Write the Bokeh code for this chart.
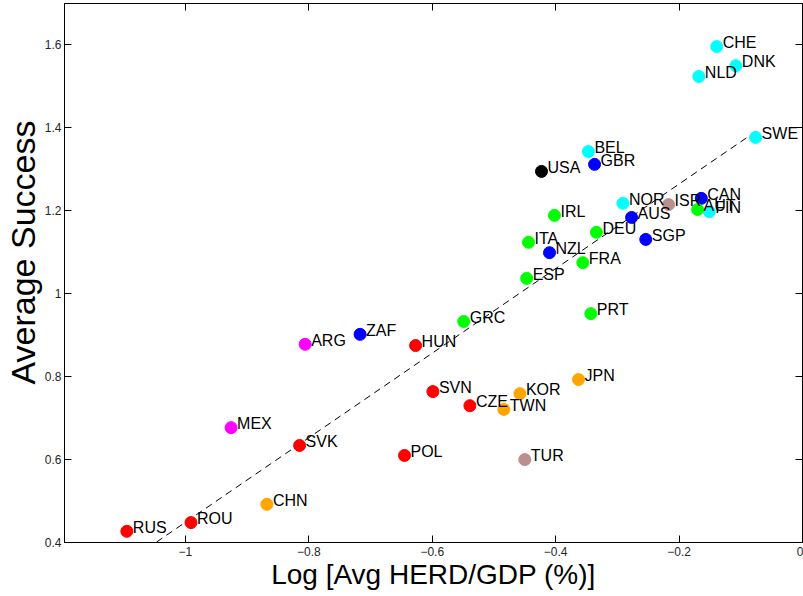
from bokeh.plotting import figure
from bokeh.models import Range1d, LinearAxis, FixedTicker, ColumnDataSource, Title
from bokeh.embed import file_html
from bokeh.resources import INLINE
from bokeh.core.properties import value

# ---- data ----
countries = ["CHE", "DNK", "NLD", "SWE", "BEL", "NOR", "FIN",
             "GBR", "CAN", "AUS", "SGP", "NZL", "ZAF",
             "USA", "ISR", "TUR",
             "AUT", "IRL", "DEU", "ITA", "FRA", "ESP", "GRC", "PRT",
             "HUN", "SVN", "CZE", "SVK", "POL", "ROU", "RUS",
             "JPN", "KOR", "TWN", "CHN",
             "ARG", "MEX"]
log_herd_gdp = [-0.139, -0.108, -0.168, -0.076, -0.347, -0.291, -0.151,
                -0.337, -0.164, -0.277, -0.254, -0.410, -0.717,
                -0.423, -0.217, -0.450,
                -0.170, -0.402, -0.334, -0.444, -0.356, -0.447, -0.549, -0.343,
                -0.627, -0.599, -0.539, -0.815, -0.645, -0.991, -1.095,
                -0.363, -0.458, -0.484, -0.868,
                -0.806, -0.926]
average_success = [1.596, 1.550, 1.524, 1.377, 1.343, 1.218, 1.198,
                   1.312, 1.230, 1.184, 1.131, 1.099, 0.902,
                   1.295, 1.215, 0.600,
                   1.203, 1.189, 1.148, 1.124, 1.075, 1.037, 0.933, 0.952,
                   0.875, 0.764, 0.730, 0.634, 0.610, 0.448, 0.427,
                   0.793, 0.759, 0.721, 0.492,
                   0.878, 0.677]
groups = ["cyan"] * 7 + ["blue"] * 6 + ["black", "brown", "brown"] + \
         ["green"] * 8 + ["red"] * 7 + ["orange"] * 4 + ["magenta"] * 2

# fitted trend line (end points)
fit_x = [-1.095, -0.076]
fit_y = [0.352, 1.391]

x_ticks = [-1, -0.8, -0.6, -0.4, -0.2, 0]
x_tick_labels = ["\u22121", "\u22120.8", "\u22120.6", "\u22120.4", "\u22120.2", "0"]
y_ticks = [0.4, 0.6, 0.8, 1.0, 1.2, 1.4, 1.6]
y_tick_labels = ["0.4", "0.6", "0.8", "1", "1.2", "1.4", "1.6"]

x_title = "Log [Avg HERD/GDP (%)]"
y_title = "Average Success"

# ---- styles ----
group_colors = {"cyan": "#00FFFF", "blue": "#0000FF", "black": "#000000",
                "brown": "#BC8F8F", "green": "#00FF00", "red": "#FF0000",
                "orange": "#FFA500", "magenta": "#FF00FF"}
FONT = "Liberation Sans"

src = ColumnDataSource(dict(x=log_herd_gdp, y=average_success, name=countries,
                            color=[group_colors[g] for g in groups]))

p = figure(width=803, height=596, x_range=Range1d(-1.196, 0.0),
           y_range=Range1d(0.4, 1.7), output_backend="svg",
           toolbar_location=None, min_border_left=64, min_border_right=1,
           min_border_top=3, min_border_bottom=54)
p.xgrid.grid_line_color = None
p.ygrid.grid_line_color = None
p.outline_line_color = "black"
p.outline_line_width = 1

p.line(fit_x, fit_y, line_color="black", line_width=1, line_dash="7 5")
p.scatter("x", "y", source=src, marker="circle", size=12,
          fill_color="color", line_color="color")
p.text("x", "y", text="name", source=src, text_font=value(FONT),
       text_font_size="16px", text_color="black", text_baseline="alphabetic",
       text_align="left", x_offset=6, y_offset=-4)


def style_axis(ax, ticks, labels, show_labels=True):
    ax.ticker = FixedTicker(ticks=ticks)
    ax.axis_line_color = "black"
    ax.major_tick_line_color = "black"
    ax.major_tick_in = 7
    ax.major_tick_out = 0
    ax.minor_tick_line_color = None
    ax.major_label_text_font = FONT
    if show_labels:
        ax.major_label_overrides = {t: l for t, l in zip(ticks, labels)}
        ax.major_label_text_color = "#262626"
        ax.major_label_text_font_size = "12px"
    else:
        ax.major_label_text_color = None
        ax.major_label_text_font_size = "1px"
        ax.major_label_standoff = 0


style_axis(p.xaxis[0], x_ticks, x_tick_labels)
style_axis(p.yaxis[0], y_ticks, y_tick_labels)
p.xaxis.major_label_standoff = 4
p.yaxis.major_label_standoff = 3

p.xaxis.axis_label = x_title
p.xaxis.axis_label_text_font = FONT
p.xaxis.axis_label_text_font_style = "normal"
p.xaxis.axis_label_text_font_size = "28px"
p.xaxis.axis_label_text_color = "black"
p.xaxis.axis_label_standoff = 0

# y title as a side title, placed slightly above the axis centre like the reference
p.add_layout(Title(text=y_title, align="left", offset=158, standoff=0,
                   text_font=FONT, text_font_size="34px",
                   text_font_style="normal", text_color="black"), "left")

top_ax = LinearAxis()
style_axis(top_ax, x_ticks, x_tick_labels, show_labels=False)
p.add_layout(top_ax, "above")
right_ax = LinearAxis()
style_axis(right_ax, y_ticks, y_tick_labels, show_labels=False)
p.add_layout(right_ax, "right")

open("out.html", "w").write(file_html(p, INLINE))
